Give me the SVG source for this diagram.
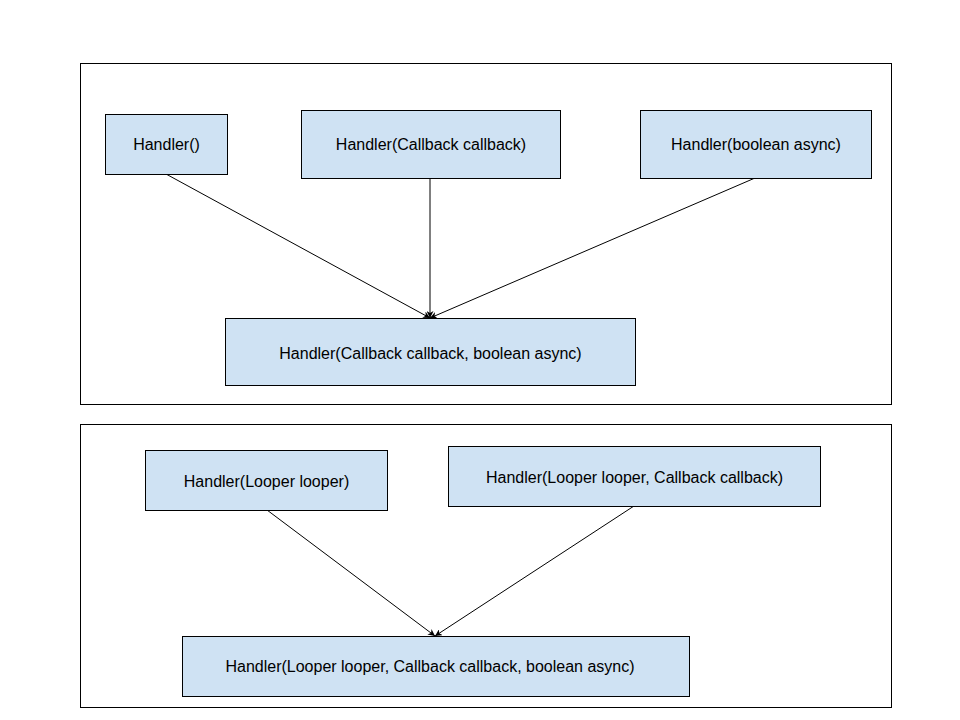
<svg xmlns="http://www.w3.org/2000/svg" width="960" height="720" viewBox="0 0 960 720">
<style>
.frame{fill:#fff;stroke:#000;stroke-width:1}
.node rect{fill:#cfe2f3;stroke:#000;stroke-width:1}
.node text{font-family:"Liberation Sans",Arial,sans-serif;font-size:16px;fill:#000;text-anchor:middle;dominant-baseline:central}
.conn line{stroke:#000;stroke-width:1;marker-end:url(#ah)}
</style>
<defs><marker id="ah" viewBox="0 0 10 10" refX="10" refY="5" markerWidth="7" markerHeight="7" orient="auto" markerUnits="userSpaceOnUse"><path d="M0,0 L10,5 L0,10 L3,5 z" fill="#000"/></marker></defs>
<rect width="960" height="720" fill="#fff"/>
<rect class="frame" x="80.5" y="63.5" width="811" height="341"/>
<rect class="frame" x="80.5" y="424.5" width="811" height="283"/>
<g class="conn">
<line x1="166" y1="174" x2="430" y2="318"/>
<line x1="430" y1="178" x2="430" y2="318"/>
<line x1="755" y1="178" x2="430" y2="318"/>
<line x1="267" y1="510" x2="435" y2="636"/>
<line x1="634" y1="506" x2="435" y2="636"/>
</g>
<g id="n1" class="node"><rect x="105.5" y="114.5" width="122" height="60"/><text x="166.5" y="144.5">Handler()</text></g>
<g id="n2" class="node"><rect x="301.5" y="110.5" width="259" height="68"/><text x="431" y="144.5">Handler(Callback callback)</text></g>
<g id="n3" class="node"><rect x="640.5" y="110.5" width="231" height="68"/><text x="756" y="144.5">Handler(boolean async)</text></g>
<g id="n4" class="node"><rect x="225.5" y="318.5" width="410" height="67"/><text x="430.5" y="353">Handler(Callback callback, boolean async)</text></g>
<g id="n5" class="node"><rect x="145.5" y="450.5" width="242" height="60"/><text x="266.5" y="481">Handler(Looper looper)</text></g>
<g id="n6" class="node"><rect x="448.5" y="446.5" width="372" height="60"/><text x="634.5" y="477">Handler(Looper looper, Callback callback)</text></g>
<g id="n7" class="node"><rect x="182.5" y="636.5" width="507" height="60"/><text x="430" y="666">Handler(Looper looper, Callback callback, boolean async)</text></g>
</svg>
